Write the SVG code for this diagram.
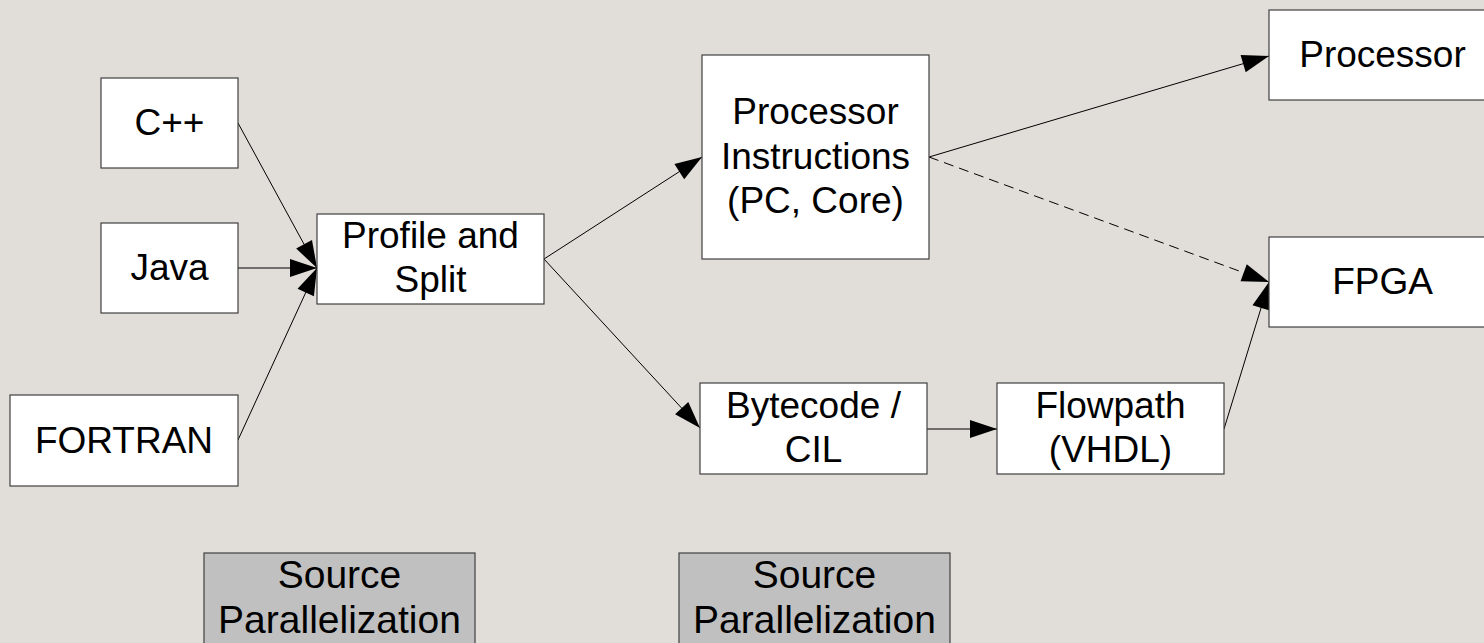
<svg xmlns="http://www.w3.org/2000/svg" width="1484" height="643" viewBox="0 0 1484 643">
  <style>
    .box { fill: #ffffff; stroke: #404040; stroke-width: 1.2; }
    .note { fill: #c0c0c0; stroke: #404040; stroke-width: 1.2; }
    .lbl { font-family: "Liberation Sans", Arial, sans-serif; font-size: 37px; fill: #000000; text-anchor: middle; }
    .big { font-size: 39px; }
    .edge { fill: none; stroke: #000000; stroke-width: 1; marker-end: url(#head); }
    .dashed { stroke-dasharray: 10 6; }
  </style>
  <defs>
    <marker id="head" markerUnits="userSpaceOnUse" markerWidth="28" markerHeight="20" refX="27" refY="10" orient="auto" overflow="visible">
      <path d="M0,1 L27,10 L0,19 Z" fill="#000000"/>
    </marker>
  </defs>

  <!-- page background -->
  <rect x="0" y="0" width="1484" height="643" fill="#e1ddd9"/>

  <!-- connectors -->
  <g id="connectors">
    <line class="edge" x1="238" y1="123" x2="317" y2="268"/>
    <line class="edge" x1="238" y1="268" x2="317" y2="268"/>
    <line class="edge" x1="238" y1="440" x2="317" y2="268"/>
    <line class="edge" x1="544" y1="259" x2="702" y2="157"/>
    <line class="edge" x1="544" y1="259" x2="700" y2="428"/>
    <line class="edge" x1="929" y1="157" x2="1269" y2="56"/>
    <line class="edge dashed" x1="929" y1="157" x2="1269" y2="282"/>
    <line class="edge" x1="927" y1="429" x2="997" y2="429"/>
    <line class="edge" x1="1224" y1="429" x2="1269" y2="282"/>
  </g>

  <!-- source languages -->
  <g id="node-cpp">
    <rect class="box" x="101" y="78" width="137" height="90"/>
    <text class="lbl" x="169.5" y="135">C++</text>
  </g>
  <g id="node-java">
    <rect class="box" x="101" y="223" width="137" height="90"/>
    <text class="lbl" x="169.5" y="280">Java</text>
  </g>
  <g id="node-fortran">
    <rect class="box" x="10" y="395" width="228" height="91"/>
    <text class="lbl" x="124" y="453">FORTRAN</text>
  </g>

  <g id="node-profile">
    <rect class="box" x="317" y="214" width="227" height="90"/>
    <text class="lbl" x="430.5" y="248">Profile and</text>
    <text class="lbl" x="430.5" y="292">Split</text>
  </g>

  <g id="node-instructions">
    <rect class="box" x="702" y="55" width="227" height="204"/>
    <text class="lbl" x="815.5" y="124">Processor</text>
    <text class="lbl" x="815.5" y="169">Instructions</text>
    <text class="lbl" x="815.5" y="213">(PC, Core)</text>
  </g>

  <g id="node-bytecode">
    <rect class="box" x="700" y="383" width="227" height="91"/>
    <text class="lbl" x="813.5" y="418">Bytecode /</text>
    <text class="lbl" x="813.5" y="462">CIL</text>
  </g>

  <g id="node-flowpath">
    <rect class="box" x="997" y="383" width="227" height="91"/>
    <text class="lbl" x="1110.5" y="418">Flowpath</text>
    <text class="lbl" x="1110.5" y="462">(VHDL)</text>
  </g>

  <g id="node-processor">
    <rect class="box" x="1269" y="10" width="227" height="90"/>
    <text class="lbl" x="1382.5" y="67">Processor</text>
  </g>

  <g id="node-fpga">
    <rect class="box" x="1269" y="237" width="227" height="90"/>
    <text class="lbl" x="1382.5" y="294">FPGA</text>
  </g>

  <!-- stage captions -->
  <g id="note-source-1">
    <rect class="note" x="204" y="553" width="271" height="92"/>
    <text class="lbl big" x="339.5" y="588">Source</text>
    <text class="lbl big" x="339.5" y="633">Parallelization</text>
  </g>
  <g id="note-source-2">
    <rect class="note" x="679" y="553" width="271" height="92"/>
    <text class="lbl big" x="814.5" y="588">Source</text>
    <text class="lbl big" x="814.5" y="633">Parallelization</text>
  </g>
</svg>
